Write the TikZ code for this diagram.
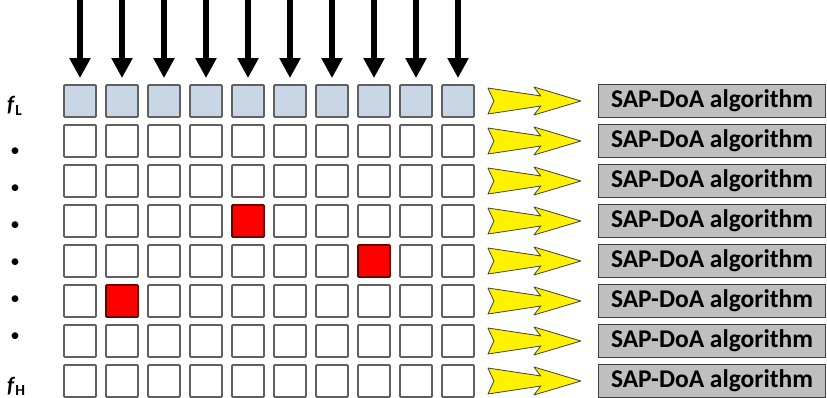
\documentclass[tikz,border=0pt]{standalone}
\usepackage{fontspec}
\setmainfont{Carlito}
\usetikzlibrary{arrows.meta}

\definecolor{cellblue}{RGB}{200,214,229}
\definecolor{cellgray}{RGB}{96,96,96}
\definecolor{hitred}{RGB}{255,0,0}
\definecolor{hitline}{RGB}{110,0,0}
\definecolor{boxgray}{RGB}{191,191,191}
\definecolor{boxline}{RGB}{64,64,64}

\tikzset{
  cell/.style={draw=cellgray, fill=white, line width=1.8pt, rounded corners=1pt,
    minimum size=32pt, inner sep=0pt},
  row1/.style={fill=cellblue},
  hit/.style={fill=hitred, draw=hitline},
  c4-5/.style={hit}, c5-8/.style={hit}, c6-2/.style={hit},
  feed/.style={line width=5.5pt, -{Triangle[width=20pt,length=20pt]}, shorten >=6pt},
  yarrow/.style={fill=yellow, draw=black!75, line width=0.8pt, line join=round},
  algbox/.style={draw=boxline, fill=boxgray, line width=1.2pt, minimum width=227pt,
    minimum height=33pt, inner sep=0pt, font=\fontsize{25.5}{25.5}\selectfont\bfseries},
  lab/.style={font=\fontsize{22}{22}\selectfont\bfseries, inner sep=0pt}
}

\begin{document}
\begin{tikzpicture}[x=1pt,y=-1pt]
\useasboundingbox (0,0) rectangle (827,398);

% grid of frequency bins
\foreach \r in {1,...,8}
  \foreach \c in {1,...,10}
    \node[cell, row\r/.try, c\r-\c/.try] (c\r-\c) at ({38+42*\c},{61+40*\r}) {};

% incoming snapshots
\foreach \c in {1,...,10}
  \draw[feed] (c1-\c.north) +(0,-85) -- (c1-\c.north);

% one algorithm per row
\foreach \r in {1,...,8}{
  \node[algbox] (a\r) at (712,{61+40*\r}) {SAP-DoA algorithm};
  \begin{scope}[shift={(c\r-10.east)}]
    \draw[yarrow] (13,-13) -- (66,-5) -- (59,-14) -- (106,0) -- (59,14)
      -- (66,5) -- (13,13) -- (19,0) -- cycle;
  \end{scope}
}

% frequency labels
\node[lab, anchor=base west] (fL) at (7,112) {\textit{f}\textsubscript{L}};
\node[lab, anchor=base west] (fH) at (7,392) {\textit{f}\textsubscript{H}};
\foreach \y [count=\i] in {152,189,226,263,300,337}
  \node[lab, font=\fontsize{19}{19}\selectfont] (d\i) at (15,\y) {\textbullet};
\end{tikzpicture}
\end{document}
